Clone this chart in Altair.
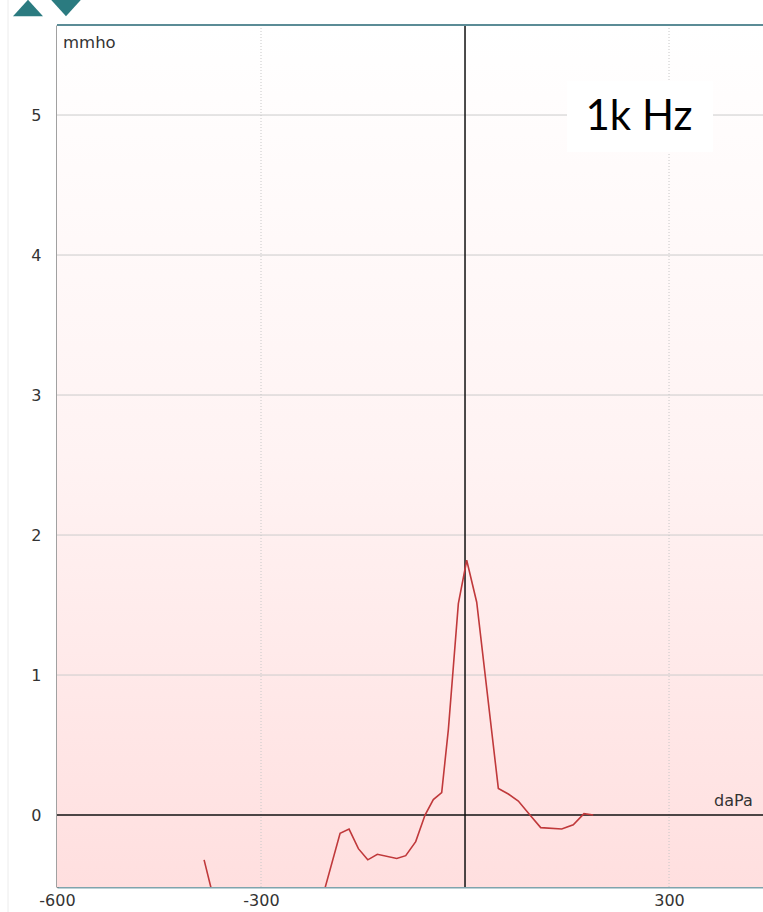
import altair as alt
import pandas as pd

# Tympanogram (1k Hz) – pressure (daPa) vs admittance (mmho)
pressure_a = [-383.7, -372.0, -362.0]
admit_a = [-0.32, -0.55, -0.75]

pressure_b = [-215.0, -205.8, -183.7, -170.5, -156.8, -143.0, -128.9, -100.4, -87.2, -72.5,
              -58.8, -46.6, -34.3, -24.5, -9.8, 2.5, 17.2, 49.0, 63.7, 78.4,
              95.5, 111.3, 142.2, 159.2, 174.9, 188.6]
admit_b = [-0.72, -0.52, -0.13, -0.10, -0.24, -0.32, -0.28, -0.31, -0.29, -0.19,
           0.00, 0.11, 0.16, 0.61, 1.51, 1.82, 1.52, 0.19, 0.15, 0.10,
           0.00, -0.09, -0.10, -0.07, 0.01, 0.00]

x_ticks = [-600, -300, 300]
x_grid = [-300, 300]
y_ticks = [0, 1, 2, 3, 4, 5]
y_grid = [1, 2, 3, 4, 5]
x_domain = [-600, 438.2]
y_domain = [-0.514, 5.643]

W, H = 706, 862

df = pd.DataFrame({
    "p": pressure_a + pressure_b,
    "y": admit_a + admit_b,
    "seg": ["a"] * len(pressure_a) + ["b"] * len(pressure_b),
})

xs = alt.Scale(domain=x_domain, nice=False, zero=False)
ys = alt.Scale(domain=y_domain, nice=False, zero=False)

FONT = "DejaVu Sans"

bg = alt.Chart(pd.DataFrame({"k": [0]})).mark_rect(
    color=alt.Gradient(
        gradient="linear",
        stops=[alt.GradientStop(color="#ffffff", offset=0),
               alt.GradientStop(color="#fff3f3", offset=0.5),
               alt.GradientStop(color="#ffdfdf", offset=1)],
        x1=0, x2=0, y1=0, y2=1,
    )
).encode(x=alt.value(0), x2=alt.value(W), y=alt.value(0), y2=alt.value(H))

axes = alt.Chart(pd.DataFrame({"p": [0], "y": [0]})).mark_point(opacity=0).encode(
    x=alt.X("p:Q", scale=xs, title=None,
            axis=alt.Axis(values=x_ticks, grid=False, ticks=False,
                          domainColor="#7fa4ad", domainWidth=2,
                          labelExpr="replace(datum.label, '\u2212', '-')",
                          labelFont=FONT, labelFontSize=16, labelColor="#333333",
                          labelPadding=5, labelFlush=False)),
    y=alt.Y("y:Q", scale=ys, title=None,
            axis=alt.Axis(values=y_ticks, grid=False, ticks=False, format="d",
                          domainColor="#444444", domainWidth=2,
                          labelFont=FONT, labelFontSize=16, labelColor="#333333",
                          labelPadding=16)),
)

hgrid = alt.Chart(pd.DataFrame({"y": y_grid})).mark_rule(color="#cccccc", strokeWidth=1).encode(
    y=alt.Y("y:Q", scale=ys))
vgrid = alt.Chart(pd.DataFrame({"p": x_grid})).mark_rule(
    color="#c8c8c8", strokeWidth=1, strokeDash=[1, 2]).encode(x=alt.X("p:Q", scale=xs))

zero_h = alt.Chart(pd.DataFrame({"y": [0]})).mark_rule(color="#111111", strokeWidth=1.5).encode(
    y=alt.Y("y:Q", scale=ys))
zero_v = alt.Chart(pd.DataFrame({"p": [0]})).mark_rule(color="#111111", strokeWidth=1.5).encode(
    x=alt.X("p:Q", scale=xs))

top_border = alt.Chart(pd.DataFrame({"k": [0]})).mark_rule(color="#5b8c96", strokeWidth=2).encode(
    x=alt.value(0), x2=alt.value(W), y=alt.value(0))
left_faint = alt.Chart(pd.DataFrame({"k": [0]})).mark_rule(color="#ececec", strokeWidth=1).encode(
    x=alt.value(-49), y=alt.value(-25), y2=alt.value(H + 25))

line = alt.Chart(df).mark_line(color="#c0393b", strokeWidth=1.6, clip=True).encode(
    x=alt.X("p:Q", scale=xs),
    y=alt.Y("y:Q", scale=ys),
    detail="seg:N",
)

box = alt.Chart(pd.DataFrame({"k": [0]})).mark_rect(color="#ffffff").encode(
    x=alt.value(510), x2=alt.value(656), y=alt.value(56), y2=alt.value(127))

title_txt = alt.Chart(pd.DataFrame({"t": ["1k Hz"]})).mark_text(
    font="Lato", fontSize=42, color="#000000", align="center", baseline="alphabetic"
).encode(x=alt.value(582), y=alt.value(105), text="t:N")

mmho = alt.Chart(pd.DataFrame({"t": ["mmho"]})).mark_text(
    font=FONT, fontSize=16.5, color="#333333", align="left", baseline="middle"
).encode(x=alt.value(6), y=alt.value(18), text="t:N")

dapa = alt.Chart(pd.DataFrame({"t": ["daPa"]})).mark_text(
    font=FONT, fontSize=16, color="#333333", align="left", baseline="alphabetic"
).encode(x=alt.value(657), y=alt.value(781), text="t:N")

arrows = alt.Chart(pd.DataFrame({"s": ["up", "down"], "px": [-29, 9]})).mark_point(
    filled=True, size=900, opacity=1, clip=False, color="#2b7b80"
).encode(
    x=alt.X("px:Q", scale=None),
    y=alt.value(-17),
    shape=alt.Shape("s:N", scale=alt.Scale(domain=["up", "down"],
                                             range=["M-1,0.55L1,0.55L0,-0.55Z",
                                                    "M-1,-0.55L1,-0.55L0,0.55Z"]), legend=None),
)

chart = alt.layer(
    bg, axes, hgrid, vgrid, zero_h, zero_v, top_border, left_faint, line, box,
    title_txt, mmho, dapa, arrows
).properties(
    width=W, height=H,
    autosize=alt.AutoSizeParams(type="none"),
    padding={"left": 57, "top": 25, "right": 0, "bottom": 25},
    background="#ffffff",
).configure_view(stroke=None)

chart.save("out.html", embed_options={"renderer": "svg", "actions": False})
